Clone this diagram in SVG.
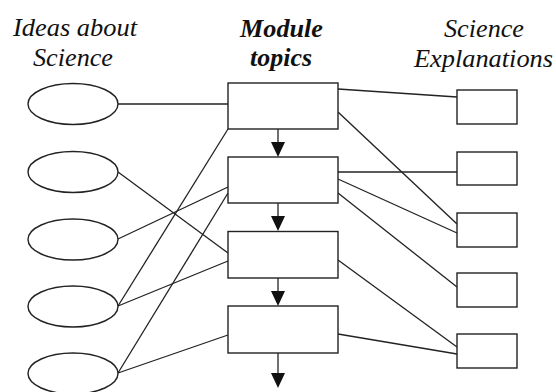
<svg xmlns="http://www.w3.org/2000/svg" width="556" height="392" viewBox="0 0 556 392">
  <defs>
    <style>
      .bg { fill: #ffffff; }
      .node { fill: #ffffff; stroke: #222222; stroke-width: 1.4; }
      .link { fill: none; stroke: #222222; stroke-width: 1.3; }
      .flow { fill: none; stroke: #222222; stroke-width: 1.3; }
      .head { fill: #111111; stroke: none; }
      .title { font-family: "Times New Roman", "Liberation Serif", Times, serif; font-size: 25px; font-style: italic; fill: #111111; text-anchor: middle; }
      .title-bold { font-weight: bold; }
    </style>
  </defs>

  <rect class="bg" x="0" y="0" width="556" height="392"/>

  <!-- column headings -->
  <g id="headings">
    <text class="title" x="75" y="36" textLength="124" lengthAdjust="spacingAndGlyphs">Ideas about</text>
    <text class="title" x="73" y="66" textLength="80" lengthAdjust="spacingAndGlyphs">Science</text>
    <text class="title title-bold" x="281.5" y="36.5" textLength="83" lengthAdjust="spacingAndGlyphs">Module</text>
    <text class="title title-bold" x="281" y="65.5" textLength="62" lengthAdjust="spacingAndGlyphs">topics</text>
    <text class="title" x="484" y="36.5" textLength="80" lengthAdjust="spacingAndGlyphs">Science</text>
    <text class="title" x="483.5" y="66.5" textLength="139" lengthAdjust="spacingAndGlyphs">Explanations</text>
  </g>

  <!-- connectors -->
  <g id="connectors">
    <!-- ideas to module topics -->
    <line class="link" x1="118" y1="104" x2="228" y2="104"/>
    <line class="link" x1="118" y1="172" x2="228" y2="253"/>
    <line class="link" x1="118" y1="239" x2="228" y2="187"/>
    <line class="link" x1="118" y1="306" x2="228" y2="129"/>
    <line class="link" x1="118" y1="306" x2="228" y2="261"/>
    <line class="link" x1="118" y1="373" x2="228" y2="193"/>
    <line class="link" x1="118" y1="373" x2="228" y2="335"/>
    <!-- module topics to explanations -->
    <line class="link" x1="338" y1="89" x2="457" y2="97"/>
    <line class="link" x1="338" y1="112" x2="457" y2="224"/>
    <line class="link" x1="338" y1="172" x2="457" y2="172"/>
    <line class="link" x1="338" y1="179" x2="457" y2="233"/>
    <line class="link" x1="338" y1="193" x2="457" y2="287"/>
    <line class="link" x1="338" y1="260" x2="457" y2="347"/>
    <line class="link" x1="338" y1="334" x2="457" y2="354"/>
    <!-- sequence arrows between module topics -->
    <line class="flow" x1="278" y1="129" x2="278" y2="143"/>
    <polygon class="head" points="271,142 285,142 278,157"/>
    <line class="flow" x1="278" y1="203" x2="278" y2="217"/>
    <polygon class="head" points="271,216 285,216 278,231"/>
    <line class="flow" x1="278" y1="278" x2="278" y2="292"/>
    <polygon class="head" points="271,291 285,291 278,306"/>
    <line class="flow" x1="278" y1="353" x2="278" y2="374"/>
    <polygon class="head" points="271,373 285,373 278,388"/>
  </g>

  <!-- ideas about science -->
  <g id="idea-1"><ellipse class="node" cx="73" cy="104" rx="45" ry="20.5"/></g>
  <g id="idea-2"><ellipse class="node" cx="73" cy="172" rx="45" ry="20.5"/></g>
  <g id="idea-3"><ellipse class="node" cx="73" cy="239.5" rx="45" ry="20.5"/></g>
  <g id="idea-4"><ellipse class="node" cx="73" cy="306.5" rx="45" ry="20.5"/></g>
  <g id="idea-5"><ellipse class="node" cx="73" cy="373.5" rx="45" ry="20.5"/></g>

  <!-- module topics -->
  <g id="topic-1"><rect class="node" x="228" y="83" width="110" height="46"/></g>
  <g id="topic-2"><rect class="node" x="228" y="157" width="110" height="46"/></g>
  <g id="topic-3"><rect class="node" x="228" y="231.5" width="110" height="46.5"/></g>
  <g id="topic-4"><rect class="node" x="228" y="306" width="110" height="47"/></g>

  <!-- science explanations -->
  <g id="explanation-1"><rect class="node" x="457" y="90" width="60" height="34"/></g>
  <g id="explanation-2"><rect class="node" x="457" y="152" width="60" height="33"/></g>
  <g id="explanation-3"><rect class="node" x="457" y="213" width="60" height="34"/></g>
  <g id="explanation-4"><rect class="node" x="457" y="273" width="60" height="34"/></g>
  <g id="explanation-5"><rect class="node" x="457" y="334" width="60" height="34"/></g>
</svg>
